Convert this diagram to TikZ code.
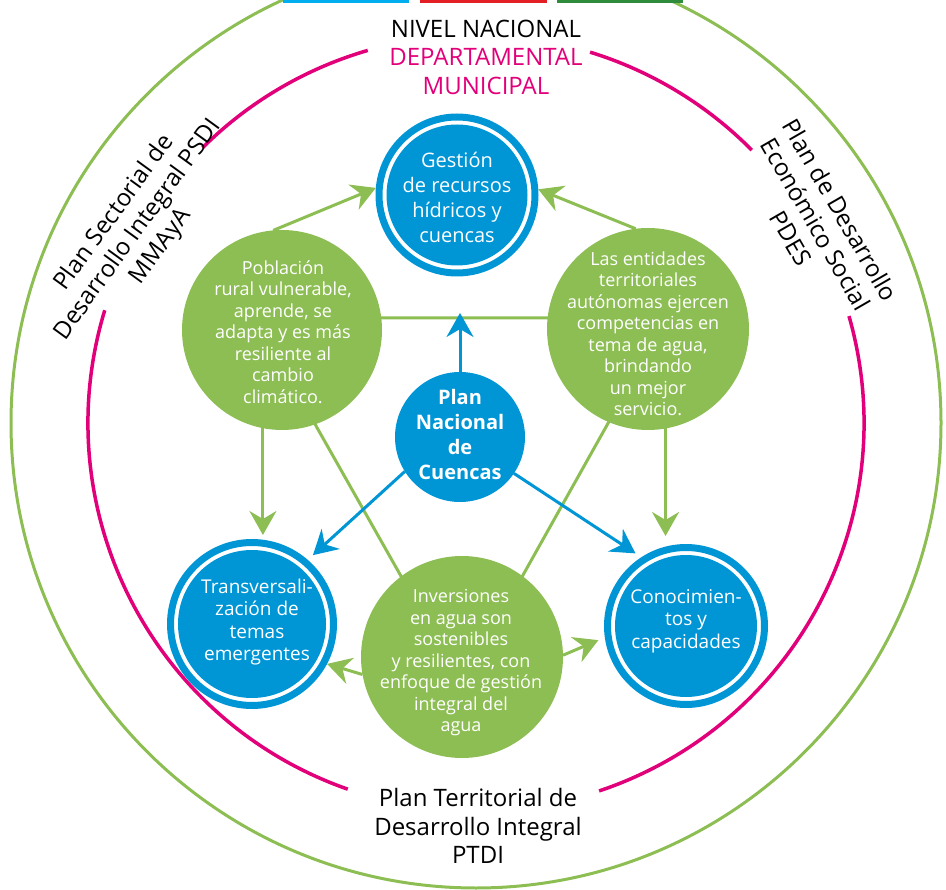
\documentclass[tikz,border=0pt]{standalone}
\usepackage{fontspec}
\setmainfont{Open Sans}
\usetikzlibrary{arrows.meta}
\definecolor{gc}{RGB}{141,190,84}
\definecolor{bc}{RGB}{0,150,214}
\definecolor{mc}{RGB}{226,0,122}
\definecolor{barc}{RGB}{0,174,239}
\definecolor{barr}{RGB}{227,30,36}
\definecolor{barg}{RGB}{47,140,60}
\begin{document}
\begin{tikzpicture}[x=1pt,y=-1pt,
  gnode/.style={circle, fill=gc, inner sep=0pt, outer sep=0pt, minimum size=#1},
  bnode/.style={circle, draw=bc, line width=7pt, fill=white, inner sep=0pt,
     minimum size={2*#1-7pt},
     path picture={\fill[bc] (path picture bounding box.center) circle[radius={#1-11pt}];}},
  cnode/.style={circle, fill=bc, inner sep=0pt, outer sep=0pt, minimum size=130pt},
  gtext/.style={text=white, align=center, inner sep=0pt, font=\fontsize{18}{21.5}\selectfont},
  btext/.style={text=white, align=center, inner sep=0pt, font=\fontsize{20}{25}\selectfont},
  ktext/.style={align=center, inner sep=0pt, font=\fontsize{24}{28.5}\selectfont},
  gline/.style={draw=gc, line width=3pt},
  garrow/.style={draw=gc, line width=3pt, -{Stealth[length=24pt,width=27pt,inset=8pt]}},
  barrow/.style={draw=bc, line width=3pt, -{Stealth[length=24pt,width=27pt,inset=8pt]}},
  ring/.style={line width=3.5pt, draw=mc}
]
\useasboundingbox (0,0) rectangle (946,890);
% outer green circle and top bars
\begin{scope}
  \clip (0,0) rectangle (946,890);
  \draw[draw=gc, line width=3pt] (476,423) circle[radius=465pt];
\end{scope}
\fill[barc] (283,0) rectangle (409,3);
\fill[barr] (420,0) rectangle (547,3);
\fill[barg] (557,0) rectangle (683,3);
% magenta ring arcs
\coordinate (O) at (476,423);
\draw[ring] (O) ++(106.2:388pt) arc[start angle=106.2, end angle=134.8, radius=388pt];
\draw[ring] (O) ++(163.1:388pt) arc[start angle=163.1, end angle=250.7, radius=388pt];
\draw[ring] (O) ++(288.5:388pt) arc[start angle=288.5, end angle=376, radius=388pt];
\draw[ring] (O) ++(44.7:388pt) arc[start angle=44.7, end angle=72.9, radius=388pt];
% triangle of green lines
\coordinate (triA) at (255,318);
\coordinate (triB) at (667,318);
\coordinate (triC) at (462,684);
\draw[gline] (triA) -- (triB) -- (triC) -- cycle;
% nodes
\node[gnode=200pt] (L) at (282,330) {};
\node[gnode=202pt] (R) at (648,329) {};
\node[gnode=202pt] (B) at (462,657) {};
\node[bnode=81.5pt] (T) at (457,195) {};
\node[bnode=85pt] (BL) at (252,624) {};
\node[bnode=82pt] (BR) at (686,626) {};
\node[cnode] (C) at (460,437) {};
\coordinate (upTip) at (460,313);
% green arrows
\draw[garrow] (L.95) -- (T.175);
\draw[garrow] (R.97) -- (T.4);
\draw[garrow, shorten >=4pt] (L.-101) -- (L.-101 |- BL.north);
\draw[garrow, shorten >=8pt] (R.-80) -- (R.-80 |- BR.north);
\draw[garrow] (B.190) -- (BL.-28);
\draw[garrow, shorten >=7pt] (B.1) -- (BR.188);
% blue arrows
\draw[barrow] (C.north) -- (upTip);
\draw[barrow, shorten >=7pt] (C.212) -- (BL.49);
\draw[barrow, shorten >=7pt] (C.-34) -- (BR.123);
% texts
\node[gtext] (Ltx) at (283,332) {Población\\rural vulnerable,\\aprende, se\\adapta y es más\\resiliente al\\cambio\\climático.};
\node[gtext] (Rtx) at (648,334) {Las entidades\\territoriales\\autónomas ejercen\\competencias en\\tema de agua,\\brindando\\un mejor\\servicio.};
\node[gtext] (Btx) at (461,663) {Inversiones\\en agua son\\sostenibles\\y resilientes, con\\enfoque de gestión\\integral del\\agua};
\node[btext] (Ttx) at (457,197) {Gestión\\de recursos\\hídricos y\\cuencas};
\node[btext, font=\fontsize{19}{22.5}\selectfont] (BLtx) at (257,622) {Transversali-\\zación de\\temas\\emergentes};
\node[btext, font=\fontsize{19}{22.5}\selectfont] (BRtx) at (686,621) {Conocimien-\\tos y\\capacidades};
\node[btext, font=\bfseries\fontsize{20}{25}\selectfont] (Ctx) at (460,435) {Plan\\Nacional\\de\\Cuencas};
\node[ktext, rotate=54] (PSDI) at (138,230) {Plan Sectorial de\\Desarrollo Integral PSDI\\MMAyA};
\node[ktext, rotate=-60] (PDES) at (816,224) {Plan de Desarrollo\\Económico Social\\PDES};
\node[ktext] (PTDI) at (478,826) {Plan Territorial de\\Desarrollo Integral\\PTDI};
\node[ktext] (NIV) at (486,57) {NIVEL NACIONAL\\\textcolor{mc}{DEPARTAMENTAL}\\\textcolor{mc}{MUNICIPAL}};
\end{tikzpicture}
\end{document}
